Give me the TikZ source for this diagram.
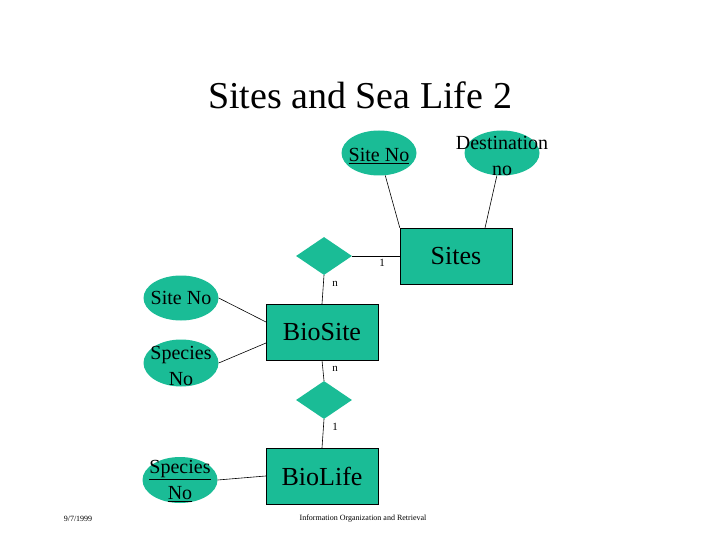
\documentclass[tikz,border=0pt]{standalone}
\usepackage{fontspec}
\setmainfont{Liberation Serif}
\usetikzlibrary{shapes.geometric}
\definecolor{er}{RGB}{26,188,150}
\begin{document}
\begin{tikzpicture}[x=1pt,y=-1pt,
  attr/.style={ellipse,fill=er,inner sep=0,minimum width=75pt,minimum height=45pt},
  atext/.style={font=\fontsize{20}{26}\selectfont,align=center,inner sep=0},
  ent/.style={rectangle,draw=black,fill=er,inner sep=0,minimum width=112pt,minimum height=56pt,font=\fontsize{26}{30}\selectfont},
  rel/.style={diamond,fill=er,inner sep=0,minimum width=56pt,minimum height=38pt},
  card/.style={font=\fontsize{11}{13}\selectfont,inner sep=0},
  ln/.style={draw=black,line width=0.6pt}]
\useasboundingbox (0,0) rectangle (720,540);
\node (title) at (360,95) {\fontsize{38}{44}\selectfont Sites and Sea Life 2};
% Sites
\node[ent] (sites) at (456,256) {Sites};
\node[attr] (sno) at (379,153) {};
\node[atext] (snot) at (379,156) {\underline{Site No}};
\node[attr] (dno) at (502,153) {};
\node[atext] (dnot) at (502,156) {Destination\\no};
\node[rel] (r1) at (324,256) {};
\draw[ln] (sno) -- (sites.north west) ++(0,0);
\draw[ln] (dno) -- (485,228) coordinate (dend);
\draw[ln] (r1.east) -- (sites.west);
\node[card] (c1) at (382,263) {1};
\node[card] (c2) at (335,284) {n};
% BioSite
\node[ent] (biosite) at (322,332) {BioSite};
\draw[ln] (r1.south) -- (biosite.north);
\node[attr] (bsno) at (181,298) {};
\node[atext] (bsnot) at (181,298) {Site No};
\node[attr, minimum height=47pt] (bspno) at (181,363) {};
\node[atext] (bspnot) at (181,366) {Species\\No};
\draw[ln] (bsno.east) -- (266,322) coordinate (b1);
\draw[ln] (bspno.east) -- (266,343) coordinate (b2);
\node[card] (c3) at (335,369) {n};
\node[rel] (r2) at (324,400) {};
\draw[ln] (biosite.south) -- (r2.north);
\node[card] (c4) at (335,427) {1};
% BioLife
\node[ent] (biolife) at (322,476) {BioLife};
\draw[ln] (r2.south) -- (biolife.north);
\node[attr, minimum height=46pt] (lsp) at (180,480) {};
\node[atext] (lspt) at (180,481) {\underline{Species}\\\underline{No}};
\draw[ln] (lsp.east) -- (biolife.west);
% footer
\node[font=\fontsize{8}{10}\selectfont] (date) at (78,519) {9/7/1999};
\node[font=\fontsize{8}{10}\selectfont] (foot) at (363,519) {Information Organization and Retrieval};
\end{tikzpicture}
\end{document}
